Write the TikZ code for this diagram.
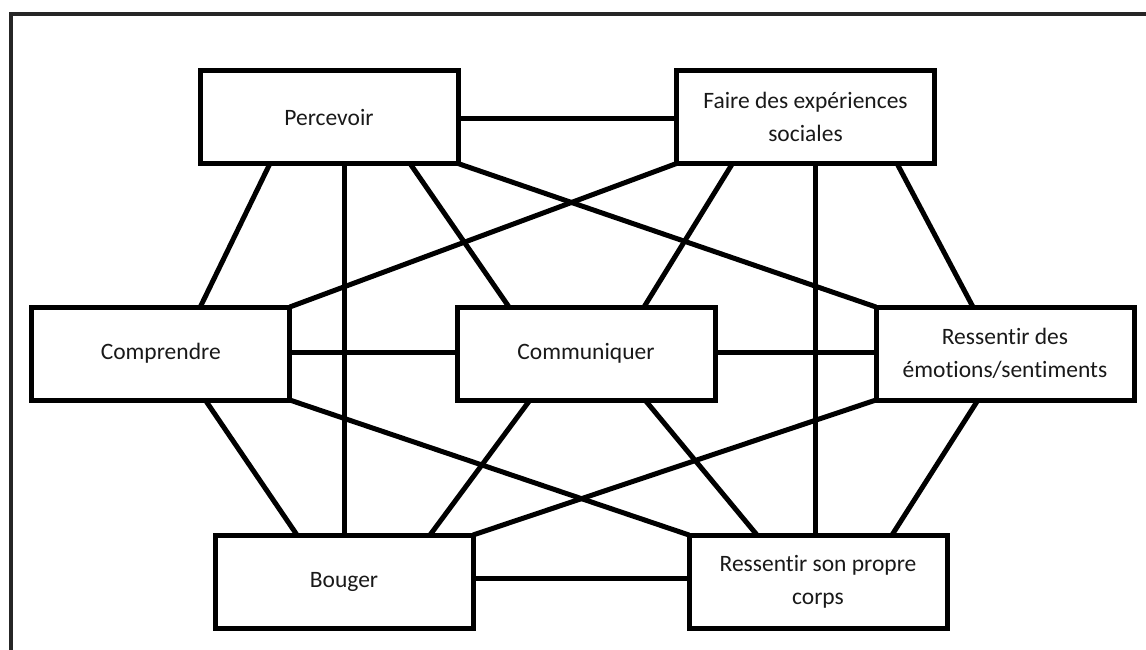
\documentclass[tikz,border=0pt]{standalone}
\usepackage{fontspec}
\setmainfont[RawFeature={-liga;-clig;-dlig;-calt}]{Carlito}
\usetikzlibrary{calc}
\begin{document}
\begin{tikzpicture}[x=1pt,y=-1pt,
  box/.style={draw=black,line width=5pt,rectangle,minimum width=258pt,minimum height=93pt,
    inner sep=0pt,outer sep=0pt,align=center,font=\fontsize{23.5}{33}\selectfont,text=black!90},
  link/.style={line width=5pt,black}]
\useasboundingbox (0,0) rectangle (1146,650);
\draw[line width=4pt,black!85] (10.5,650) -- (10.5,14.5) -- (1146,14.5);

\node[box] (perc) at (329,117) {Percevoir};
\node[box] (faire) at (805.5,117) {Faire des expériences\\sociales};
\node[box] (comp) at (160.75,353.5) {Comprendre};
\node[box] (comm) at (586,353.5) {Communiquer};
\node[box] (emo) at (1005,353.5) {Ressentir des\\émotions/sentiments};
\node[box] (boug) at (344,581.5) {Bouger};
\node[box] (corps) at (818,581.5) {Ressentir son propre\\corps};

% top row
\draw[link] ($(perc.east)+(0,2)$) -- ($(faire.west)+(0,2)$);
\draw[link] ($(perc.south west)+(70,0)$) -- ($(comp.north west)+(168.5,0)$);
\draw[link] ($(perc.south west)+(144,0)$) -- (boug.north);
\draw[link] ($(perc.south west)+(210,0)$) -- ($(comm.north west)+(52,0)$);
\draw[link] (perc.south east) -- (emo.north west);
\draw[link] (faire.south west) -- (comp.north east);
\draw[link] ($(faire.south west)+(56,0)$) -- ($(comm.north west)+(187,0)$);
\draw[link] ($(faire.south west)+(138.5,0)$) -- ($(corps.north west)+(126,0)$);
\draw[link] ($(faire.south west)+(220.5,0)$) -- ($(emo.north west)+(97,0)$);
% middle row
\draw[link] ($(comp.east)+(0,-1)$) -- ($(comm.west)+(0,-1)$);
\draw[link] ($(comm.east)+(0,-1)$) -- ($(emo.west)+(0,-1)$);
\draw[link] ($(comp.south west)+(173.5,0)$) -- ($(boug.north west)+(82,0)$);
\draw[link] (comp.south east) -- (corps.north west);
\draw[link] ($(comm.south west)+(73,0)$) -- ($(boug.north west)+(215,0)$);
\draw[link] ($(comm.south west)+(188,0)$) -- ($(corps.north west)+(68,0)$);
\draw[link] (emo.south west) -- (boug.north east);
\draw[link] ($(emo.south west)+(102,0)$) -- ($(corps.north west)+(203,0)$);
% bottom row
\draw[link] ($(boug.east)+(0,-3.5)$) -- ($(corps.west)+(0,-3.5)$);
\end{tikzpicture}
\end{document}
